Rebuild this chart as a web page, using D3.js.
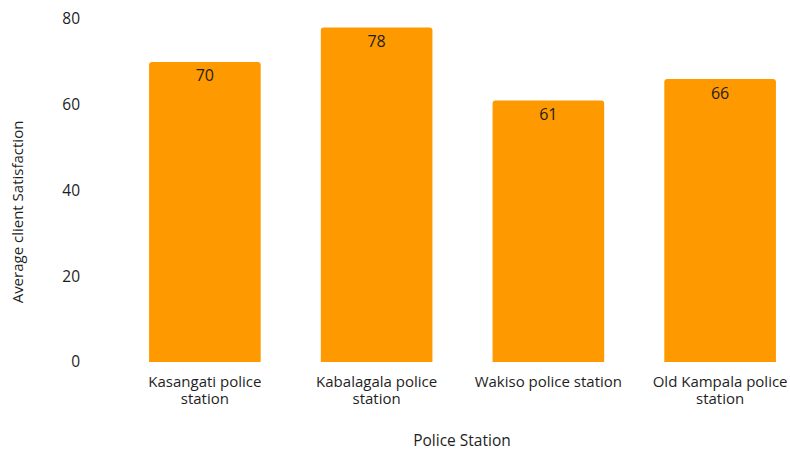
<!DOCTYPE html>
<html>
<head>
<meta charset="utf-8">
<script src="https://cdn.jsdelivr.net/npm/d3@7"></script>
<style>
  html, body { margin: 0; padding: 0; background: #fff; }
  svg { display: block; font-family: "Open Sans", "Noto Sans", sans-serif; }
</style>
</head>
<body>
<svg id="chart" width="790" height="451"></svg>
<script>
// Average client satisfaction per police station
const stations = [
  ["Kasangati police", "station"],
  ["Kabalagala police", "station"],
  ["Wakiso police station"],
  ["Old Kampala police", "station"]
];
const satisfaction = [70, 78, 61, 66];
const yTicks = [0, 20, 40, 60, 80];

const svg = d3.select("#chart");
const textColor = "#1e1e1e";
const barColor = "#FF9900";

const x = d3.scaleBand()
  .domain(d3.range(stations.length))
  .range([119, 806])
  .paddingInner(0.35)
  .paddingOuter(0.175);

const y = d3.scaleLinear()
  .domain([0, 80])
  .range([362, 19]);

// y tick labels (no axis line or gridlines)
svg.append("g")
  .selectAll("text")
  .data(yTicks)
  .join("text")
  .attr("x", 80)
  .attr("y", d => y(d))
  .attr("dy", "0.35em")
  .attr("text-anchor", "end")
  .attr("font-size", 15.5)
  .attr("fill", textColor)
  .text(d => d);

// bars with slightly rounded top corners
const r = 3;
svg.append("g")
  .selectAll("path")
  .data(satisfaction)
  .join("path")
  .attr("fill", barColor)
  .attr("d", (d, i) => {
    const x0 = x(i), x1 = x(i) + x.bandwidth();
    const y0 = y(0), y1 = y(d);
    return `M${x0},${y0}V${y1 + r}Q${x0},${y1} ${x0 + r},${y1}H${x1 - r}Q${x1},${y1} ${x1},${y1 + r}V${y0}Z`;
  });

// value labels inside bar tops
svg.append("g")
  .selectAll("text")
  .data(satisfaction)
  .join("text")
  .attr("x", (d, i) => x(i) + x.bandwidth() / 2)
  .attr("y", d => y(d) + 14)
  .attr("dy", "0.35em")
  .attr("text-anchor", "middle")
  .attr("font-size", 16)
  .attr("fill", textColor)
  .text(d => d);

// category labels, one text element per line
const catG = svg.append("g");
stations.forEach((lines, i) => {
  lines.forEach((l, j) => {
    catG.append("text")
      .attr("x", x(i) + x.bandwidth() / 2)
      .attr("y", 382 + j * 17)
      .attr("dy", "0.35em")
      .attr("text-anchor", "middle")
      .attr("font-size", 15)
      .attr("fill", textColor)
      .text(l);
  });
});

// axis titles
svg.append("text")
  .attr("x", 462)
  .attr("y", 441)
  .attr("dy", "0.35em")
  .attr("text-anchor", "middle")
  .attr("font-size", 15.5)
  .attr("fill", textColor)
  .text("Police Station");

svg.append("text")
  .attr("transform", "translate(18,212) rotate(-90)")
  .attr("dy", "0.35em")
  .attr("text-anchor", "middle")
  .attr("font-size", 15)
  .attr("fill", textColor)
  .text("Average client Satisfaction");
</script>
</body>
</html>
